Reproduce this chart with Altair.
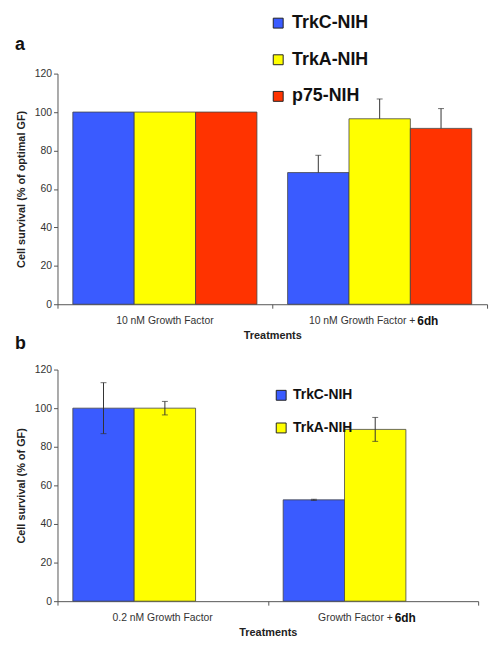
import altair as alt
import pandas as pd

# ---- data ----
a_treat = ["10 nM Growth Factor", "10 nM Growth Factor + 6dh"]
a_series = ["TrkC-NIH", "TrkA-NIH", "p75-NIH"]
a_vals = {"TrkC-NIH": [100, 68.5], "TrkA-NIH": [100, 96.5], "p75-NIH": [100, 91.5]}
a_err = {"TrkC-NIH": [0, 9], "TrkA-NIH": [0, 10.3], "p75-NIH": [0, 10.3]}
a_colors = ["#3A5BFF", "#FFFF00", "#FF3300"]

b_treat = ["0.2 nM Growth Factor", "Growth Factor + 6dh"]
b_series = ["TrkC-NIH", "TrkA-NIH"]
b_vals = {"TrkC-NIH": [100, 52.5], "TrkA-NIH": [100, 89]}
b_err = {"TrkC-NIH": [13.2, 0.3], "TrkA-NIH": [3.5, 6.2]}
b_colors = ["#3A5BFF", "#FFFF00"]

y_ticks = [0, 20, 40, 60, 80, 100, 120]

FONT = "Liberation Sans"


def make_df(treats, series, vals, errs, upper_only):
    rows = []
    for s in series:
        for i, t in enumerate(treats):
            v = vals[s][i]
            e = errs[s][i]
            rows.append({
                "treat": t, "series": s, "value": v,
                "lo": v if upper_only else v - e, "hi": v + e, "err": e,
            })
    return pd.DataFrame(rows)


def panel(treats, series, vals, errs, colors, upper_only, w, h, ytitle,
          letter, letter_y, leg_x, leg_y, leg_font, leg_pad, split_dx,
          first_label, second_label):
    df = make_df(treats, series, vals, errs, upper_only)
    xaxis = alt.Axis(title="Treatments", labels=False, tickBand="extent",
                     bandPosition=0, tickSize=4, domainColor="#555",
                     tickColor="#555", titleFont=FONT, titleFontSize=11,
                     titleFontWeight="bold", titleColor="#222", titlePadding=21)
    xs = alt.Scale(paddingInner=0, paddingOuter=0)
    yaxis = alt.Axis(title=ytitle, values=y_ticks, grid=False, labelOverlap=False,
                     domainColor="#555", tickColor="#555", tickSize=4,
                     labelFont=FONT, labelFontSize=10.5, labelColor="#333",
                     titleFont=FONT, titleFontSize=11, titleFontWeight="bold",
                     titleColor="#222", titlePadding=8)
    ys = alt.Scale(domain=[0, 120], nice=False)

    def X():
        return alt.X("treat:N", sort=treats, scale=xs, axis=xaxis)

    def XO():
        return alt.XOffset("series:N", sort=series,
                           scale=alt.Scale(paddingOuter=0.25, paddingInner=0))

    def Y(f):
        return alt.Y(f, scale=ys, axis=yaxis)

    bars = alt.Chart(df).mark_bar(stroke="#444", strokeWidth=0.8).encode(
        x=X(), xOffset=XO(), y=Y("value:Q"),
        color=alt.Color("series:N", sort=series,
                        scale=alt.Scale(domain=series, range=colors),
                        legend=alt.Legend(title=None, orient="none", legendX=leg_x,
                                          legendY=leg_y, symbolType="square",
                                          symbolSize=100, symbolStrokeColor="#222",
                                          symbolStrokeWidth=1, symbolOpacity=1,
                                          labelFont=FONT, labelFontSize=leg_font,
                                          labelFontWeight="bold", labelColor="#111",
                                          labelOffset=5, rowPadding=leg_pad,
                                          padding=0)),
    )
    edf = df[df["err"] > 0]
    rules = alt.Chart(edf).mark_rule(color="#333", strokeWidth=1).encode(
        x=X(), xOffset=XO(), y=Y("lo:Q"), y2="hi:Q")
    caps_hi = alt.Chart(edf).mark_tick(color="#333", thickness=1, size=6).encode(
        x=X(), xOffset=XO(), y=Y("hi:Q"))
    layers = [bars, rules, caps_hi]
    if not upper_only:
        caps_lo = alt.Chart(edf).mark_tick(color="#333", thickness=1, size=6).encode(
            x=X(), xOffset=XO(), y=Y("lo:Q"))
        layers.append(caps_lo)

    lab_df = pd.DataFrame({"treat": treats, "t1": [first_label, second_label]})
    lab1 = alt.Chart(lab_df.iloc[[0]]).mark_text(
        font=FONT, fontSize=10.5, color="#333", baseline="middle").encode(
        x=X(), y=alt.value(h + 17), text="t1:N")
    lab2 = alt.Chart(lab_df.iloc[[1]]).mark_text(
        font=FONT, fontSize=10.5, color="#333", baseline="middle", align="right",
        dx=split_dx).encode(
        x=X(), y=alt.value(h + 17), text="t1:N")
    bold_df = pd.DataFrame({"treat": [treats[1]], "t": ["6dh"]})
    lab3 = alt.Chart(bold_df).mark_text(
        font=FONT, fontSize=12, fontWeight="bold", color="#111", baseline="middle",
        align="left", dx=split_dx + 2).encode(
        x=X(), y=alt.value(h + 17), text="t:N")
    let_df = pd.DataFrame({"t": [letter]})
    let = alt.Chart(let_df).mark_text(
        font=FONT, fontSize=18, fontWeight="bold", color="#111", align="left",
        baseline="middle").encode(x=alt.value(-43), y=alt.value(letter_y), text="t:N")
    layers += [lab1, lab2, lab3, let]
    return alt.layer(*layers).properties(width=w, height=h)


pa = panel(a_treat, a_series, a_vals, a_err, a_colors, True, 434, 233,
           "Cell survival (% of optimal GF)", "a", -29, 214, -60, 18, 19, 36,
           "10 nM Growth Factor", "10 nM Growth Factor +")
pb = panel(b_treat, b_series, b_vals, b_err, b_colors, False, 425, 234,
           "Cell survival (% of GF)", "b", -26, 219, 19, 14, 19, 20,
           "0.2 nM Growth Factor", "Growth Factor +")

chart = alt.vconcat(pa, pb, spacing=66, bounds="flush").resolve_scale(
    color="independent").resolve_legend(color="independent").configure(
    background="white",
    padding={"left": 7, "top": 3, "right": 5, "bottom": 5}).configure_view(stroke=None)

chart.save("out.html", embed_options={"renderer": "svg", "actions": False})
